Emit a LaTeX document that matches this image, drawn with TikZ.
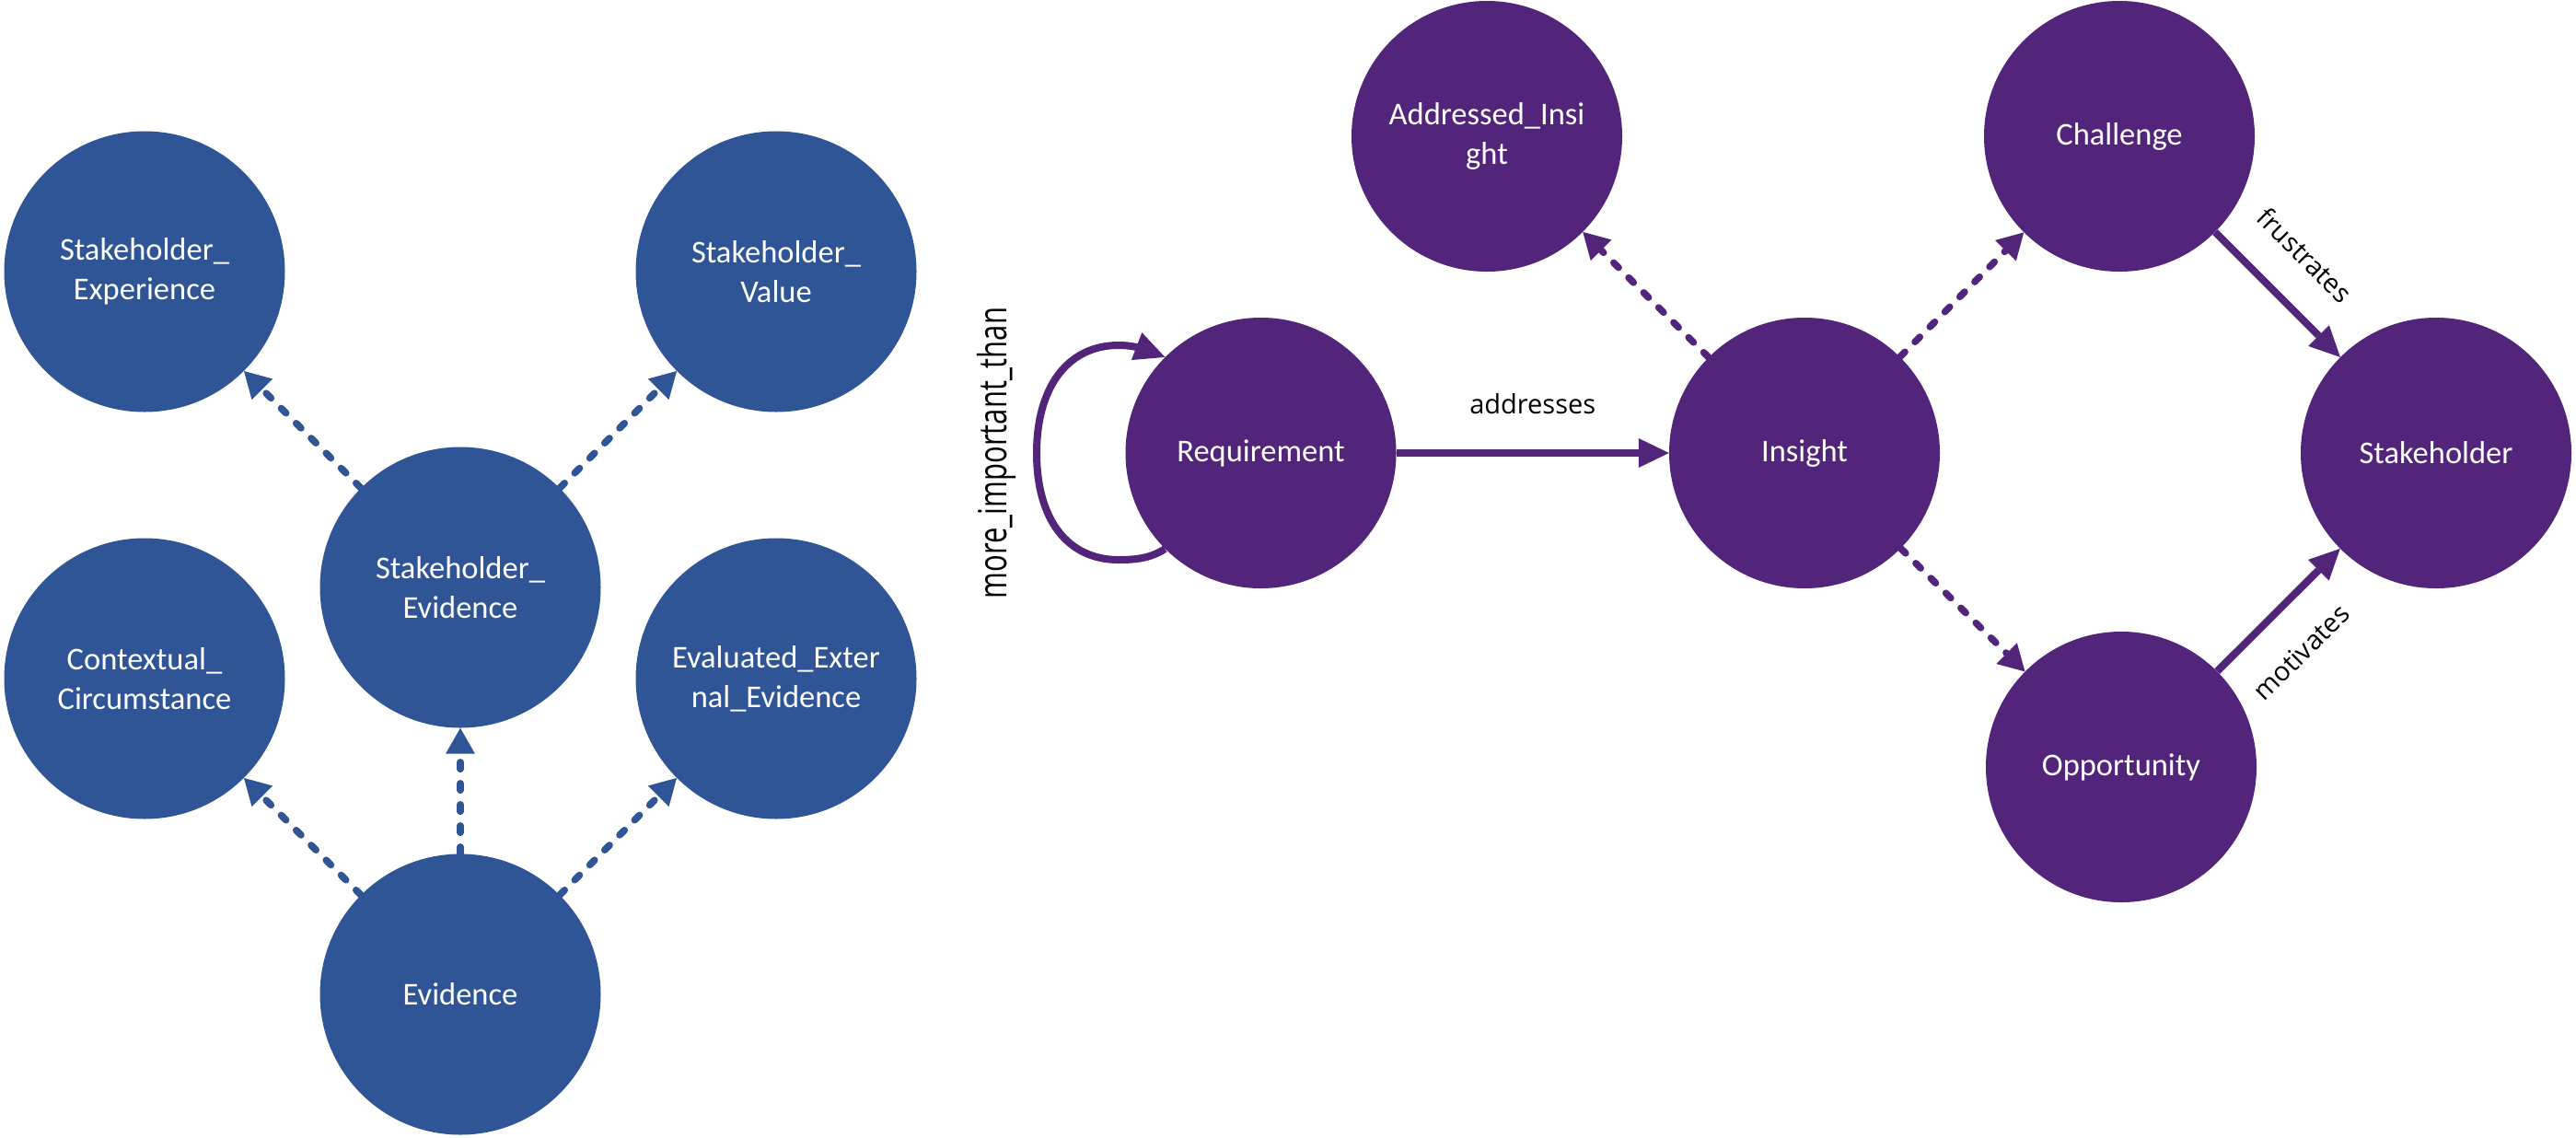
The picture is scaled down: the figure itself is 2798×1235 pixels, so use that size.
\documentclass[tikz,border=0pt]{standalone}
\usepackage{fontspec}
\setmainfont{Carlito}
\newfontfamily\lblfont{Open Sans}
\usetikzlibrary{arrows.meta}
\definecolor{cblue}{RGB}{47,85,151}
\definecolor{cpurp}{RGB}{82,36,122}
\tikzset{
  nodetext/.style={circle, draw=none, inner sep=0pt, text=white, align=center,
    font=\fontsize{34.5}{43}\selectfont},
  bnode/.style={nodetext, fill=cblue, minimum size=305pt},
  pnode/.style={nodetext, fill=cpurp, minimum size=294pt},
  dasharrow/.style={line width=7.5pt, line cap=round, dash pattern=on 7.5pt off 15.5pt,
    -{Triangle[length=28pt,width=32pt,line width=0pt]}},
  bdash/.style={dasharrow, draw=cblue},
  pdash/.style={dasharrow, draw=cpurp},
  psolid/.style={line width=8pt, draw=cpurp, -{Triangle[length=33pt,width=32pt,line width=0pt]}},
  lbl/.style={font=\lblfont\fontsize{29}{35}\selectfont, text=black},
}
\begin{document}
\begin{tikzpicture}[x=1pt,y=-1pt]
\fill[white] (0,0) rectangle (2798,1235);
\useasboundingbox (0,0) rectangle (2798,1235);

% blue part
\node[bnode] (sexp)  at (157,295)  {Stakeholder\_\\Experience};
\node[bnode] (sval)  at (843,295)  {Stakeholder\_\\Value};
\node[bnode] (sevid) at (500,638)  {Stakeholder\_\\Evidence};
\node[bnode] (ctx)   at (157,737)  {Contextual\_\\Circumstance};
\node[bnode] (eval)  at (843,737)  {Evaluated\_Exter\\nal\_Evidence};
\node[bnode] (evid)  at (500,1080) {Evidence};

\draw[bdash] (sevid) -- (sexp);
\draw[bdash] (sevid) -- (sval);
\draw[bdash] (evid) -- (ctx);
\draw[bdash] (evid) -- (sevid);
\draw[bdash] (evid) -- (eval);

% purple part
\node[pnode] (ains) at (1615,148)   {Addressed\_Insi\\ght};
\node[pnode] (chal) at (2302,148)   {Challenge};
\node[pnode] (req)  at (1369.5,492) {Requirement};
\node[pnode] (ins)  at (1960,492)   {Insight};
\node[pnode] (stk)  at (2646,492)   {Stakeholder};
\node[pnode] (opp)  at (2304,833)   {Opportunity};

\draw[pdash] (ins) -- (ains);
\draw[pdash] (ins) -- (chal);
\draw[pdash] (ins) -- (opp);

\draw[psolid] (req) -- node[lbl, above, inner sep=38pt] {addresses} (ins);
\draw[psolid] (chal) -- node[lbl, sloped, above, pos=0.45, inner sep=36pt] {frustrates} (stk);
\draw[psolid] (opp) -- node[lbl, sloped, below, pos=0.42, inner sep=35pt] {motivates} (stk);

\draw[psolid] (req.225) .. controls (1250,606) and (1235,608) .. (1215,608)
  .. controls (1160,608) and (1126,565) .. (1126,492)
  .. controls (1126,420) and (1160,375) .. (1215,375)
  .. controls (1235,375) and (1250,382) .. (req.135);
\node[lbl, rotate=90, anchor=base, xscale=1.07, yscale=1.46] (lmore) at (1093,492) {more\_important\_than};
\end{tikzpicture}
\end{document}
